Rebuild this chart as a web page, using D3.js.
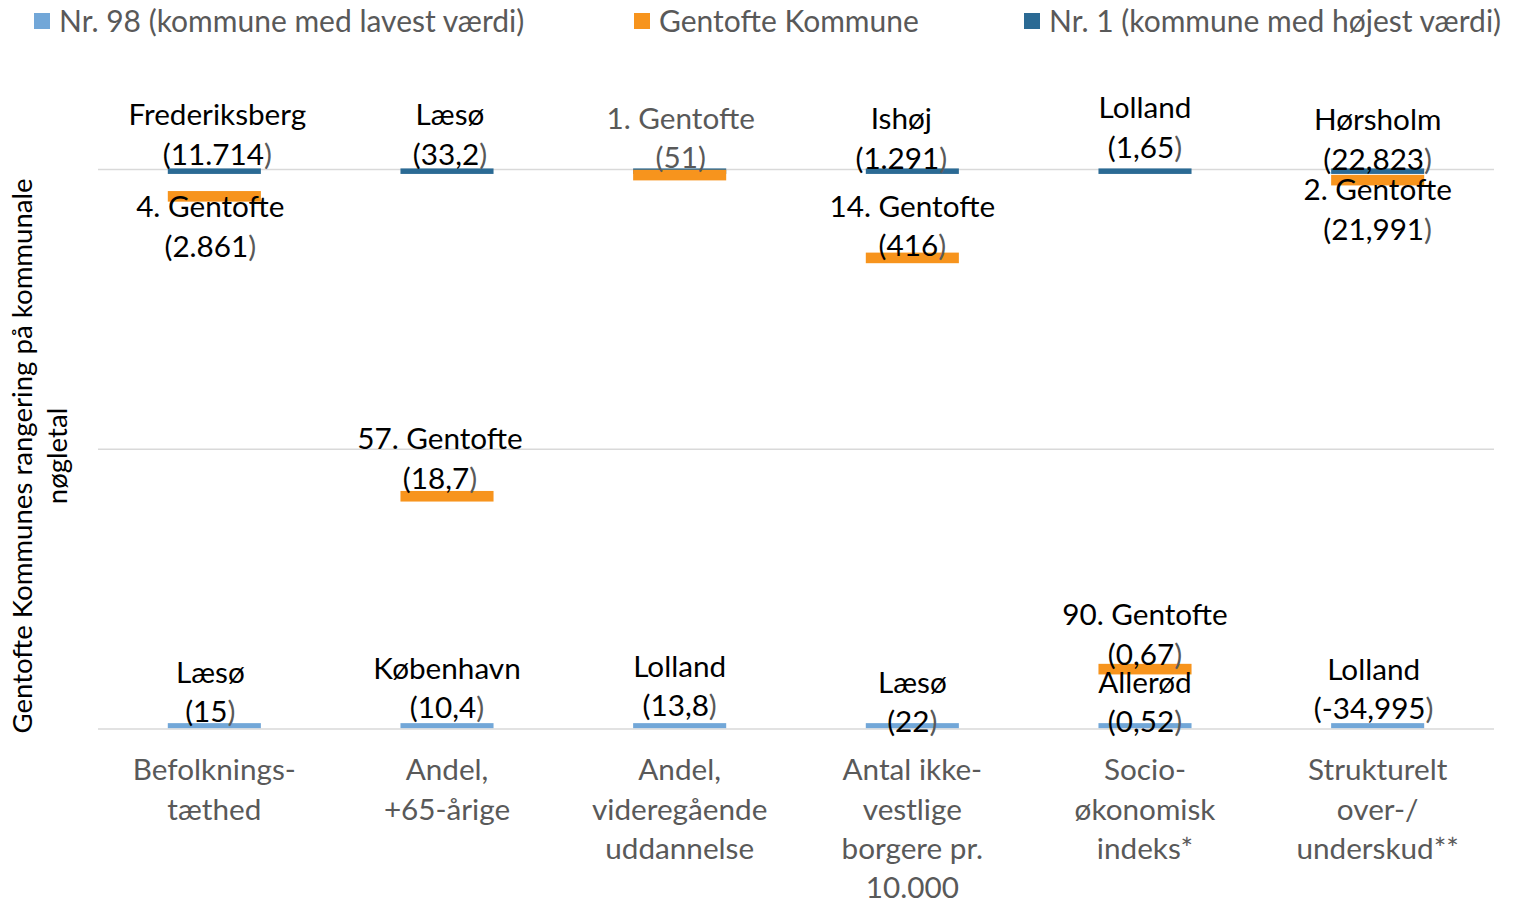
<!DOCTYPE html>
<html>
<head>
<meta charset="utf-8">
<script src="https://cdn.jsdelivr.net/npm/d3@7"></script>
<style>
  body { margin: 0; background: #fff; }
  svg text { font-family: Lato, "Noto Sans", sans-serif; }
</style>
</head>
<body>
<svg id="chart" width="1519" height="901"></svg>
<script>
// Categories (x axis, multi-line)
var categories = [
	["Befolknings-", "tæthed"],
	["Andel,", "+65-årige"],
	["Andel,", "videregående", "uddannelse"],
	["Antal ikke-", "vestlige", "borgere pr.", "10.000"],
	["Socio-", "økonomisk", "indeks*"],
	["Strukturelt", "over-/", "underskud**"]
];

// Nr. 1 (highest value)
var highNames = ["Frederiksberg", "Læsø", "Gentofte", "Ishøj", "Lolland", "Hørsholm"];
var highValues = ["11.714", "33,2", "51", "1.291", "1,65", "22,823"];
var highPlot = [0.3, 0.3, 0.3, 0.3, 0.3, 0.3];

// Nr. 98 (lowest value)
var lowNames = ["Læsø", "København", "Lolland", "Læsø", "Allerød", "Lolland"];
var lowValues = ["15", "10,4", "13,8", "22", "0,52", "-34,995"];
var lowPlot = [99.4, 99.4, 99.4, 99.4, 99.4, 99.4];

// Gentofte Kommune
var gentofteRank = [4, 57, 1, 14, 90, 2];
var gentofteValues = ["2.861", "18,7", "51", "416", "0,67", "21,991"];
var gentoftePlot = [4.8, 58.4, 1.0, 15.8, 89.3, 1.9];

var gridTicks = [0, 50, 100];

var legendLabels = ["Nr. 98 (kommune med lavest værdi)", "Gentofte Kommune", "Nr. 1 (kommune med højest værdi)"];
var colors = { low: "#72a7d8", gentofte: "#f7941d", high: "#2b6a94" };

// label layout: offset of 2nd line centre from bar centre, and x shift
var highDy = [-17, -17, null, -13, -24, -12];
var highDx = [3, 3, 0, -11, 0, 0];
var lowDy = [-14, -18, -20, -4, -4, -17];
var lowDx = [-4, 0, 0, 0, 0, -4];
var gentDy = [50, -18, -17, -12, -15, 49];
var gentDx = [-4, -7, 1, 0, 0, 0];

var svg = d3.select("#chart");
var fontSize = 29.7, lineH = 39.3;

var x = d3.scaleBand()
	.domain(d3.range(categories.length))
	.range([98, 1494])
	.paddingInner(0.6)
	.paddingOuter(0.3);

var y = d3.scaleLinear().domain([0, 100]).range([169.5, 729]);

// gridlines
svg.append("g").selectAll("line")
	.data(gridTicks)
	.enter().append("line")
	.attr("x1", 98).attr("x2", 1494)
	.attr("y1", function (d) { return y(d); })
	.attr("y2", function (d) { return y(d); })
	.attr("stroke", "#d9d9d9")
	.attr("stroke-width", 1.5);

function drawBars(vals, color, h) {
	svg.append("g").selectAll("rect")
		.data(vals)
		.enter().append("rect")
		.attr("x", function (_d, i) { return x(i); })
		.attr("width", x.bandwidth())
		.attr("y", function (d) { return y(d) - h / 2; })
		.attr("height", h)
		.attr("fill", color);
}

drawBars(highPlot, colors.high, 5.5);
drawBars(lowPlot, colors.low, 5);
drawBars(gentoftePlot, colors.gentofte, 10.6);

// two-line data labels
function drawLabel(g, cx, cy, name, value, color) {
	var t = g.append("text")
		.attr("text-anchor", "middle")
		.attr("font-size", fontSize)
		.attr("fill", color);
	t.append("tspan").attr("x", cx).attr("y", cy - lineH).attr("dy", "0.35em").text(name);
	var t2 = t.append("tspan").attr("x", cx).attr("y", cy).attr("dy", "0.35em");
	t2.append("tspan").text("(" + value);
	t2.append("tspan").attr("fill", "#595959").text(")");
}

function drawLabels(names, values, plot, dy, dx) {
	var g = svg.append("g");
	names.forEach(function (name, i) {
		if (dy[i] == null) return;
		drawLabel(g, x(i) + x.bandwidth() / 2 + dx[i], y(plot[i]) + dy[i], name, values[i], "#000");
	});
}

drawLabels(highNames, highValues, highPlot, highDy, highDx);
drawLabels(lowNames, lowValues, lowPlot, lowDy, lowDx);

var gLab = svg.append("g");
gentofteRank.forEach(function (r, i) {
	var col = r == 1 ? "#595959" : "#000";
	drawLabel(gLab, x(i) + x.bandwidth() / 2 + gentDx[i], y(gentoftePlot[i]) + gentDy[i],
		r + ". Gentofte", gentofteValues[i], col);
});

// category axis labels
var catG = svg.append("g");
categories.forEach(function (lines, i) {
	var t = catG.append("text")
		.attr("text-anchor", "middle")
		.attr("font-size", fontSize)
		.attr("fill", "#595959");
	lines.forEach(function (l, j) {
		t.append("tspan")
			.attr("x", x(i) + x.bandwidth() / 2)
			.attr("y", 770 + j * lineH)
			.attr("dy", "0.35em")
			.text(l);
	});
});

// y axis title
var yt = svg.append("text")
	.attr("transform", "translate(22,456) rotate(-90)")
	.attr("text-anchor", "middle")
	.attr("font-size", 27.6)
	.attr("fill", "#000");
yt.append("tspan").attr("x", 0).attr("y", 0).attr("dy", "0.35em").text("Gentofte Kommunes rangering på kommunale");
yt.append("tspan").attr("x", 0).attr("y", 35).attr("dy", "0.35em").text("nøgletal");

// legend
var legendX = [34, 634, 1024];
var legendColors = [colors.low, colors.gentofte, colors.high];
var leg = svg.append("g");
legendLabels.forEach(function (l, i) {
	leg.append("rect")
		.attr("x", legendX[i]).attr("y", 13)
		.attr("width", 16).attr("height", 16)
		.attr("fill", legendColors[i]);
	leg.append("text")
		.attr("x", legendX[i] + 25).attr("y", 21)
		.attr("dy", "0.35em")
		.attr("font-size", 30)
		.attr("fill", "#595959")
		.text(l);
});
</script>
</body>
</html>
